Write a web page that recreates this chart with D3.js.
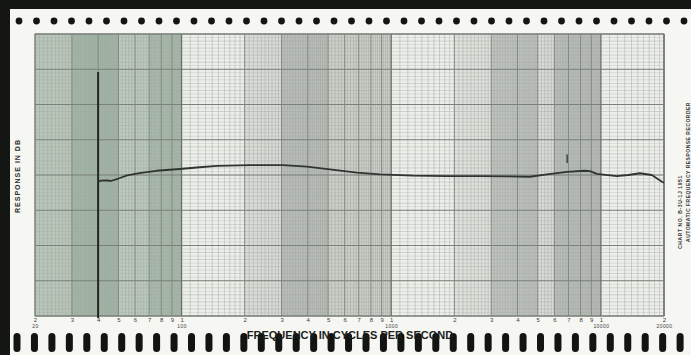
<!DOCTYPE html>
<html>
<head>
<meta charset="utf-8">
<script src="https://cdn.jsdelivr.net/npm/d3@7"></script>
<style>
  body { margin: 0; background: #fff; }
  svg { display: block; }
</style>
</head>
<body>
<div class="chart"></div>
<script>
// pen trace (Hz, dB)
var traceFreq = [40, 41, 44, 46, 50, 55, 64, 76, 98, 122, 148, 212, 305, 396, 510, 686, 884,
                 1270, 1840, 2650, 3600, 4590, 5530, 6890, 8390, 8860, 9570, 11900, 13500, 15350, 17500, 19550, 20000];
var traceDb   = [-1.0, -0.8, -0.75, -0.85, -0.5, -0.05, 0.3, 0.6, 0.85, 1.1, 1.3, 1.4, 1.4, 1.2, 0.8, 0.35, 0.1,
                 -0.1, -0.15, -0.15, -0.2, -0.25, 0.1, 0.45, 0.6, 0.55, 0.15, -0.15, 0.0, 0.25, 0.0, -0.95, -1.1];

// pen marks (vertical strokes): freq, top dB, bottom dB
var markFreq   = [40, 6900];
var markTop    = [14.6, 2.9];
var markBottom = [-20.3, 1.7];

// tinted bands printed on the paper
var bandFrom = [20, 30, 50, 70, 200, 300, 500, 2000, 3000, 5000, 6000];
var bandTo   = [30, 50, 70, 100, 300, 500, 1000, 3000, 5000, 6000, 10000];

// axis labels
var digitTicks  = [20, 30, 40, 50, 60, 70, 80, 90, 100, 200, 300, 400, 500, 600, 700, 800, 900, 1000,
                   2000, 3000, 4000, 5000, 6000, 7000, 8000, 9000, 10000, 20000];
var decadeTicks = [20, 100, 1000, 10000, 20000];
var decadeNames = ["20", "100", "1000", "10000", "20000"];

var width = 691;
var height = 355;
var plot = {left: 35, right: 664, top: 34, bottom: 316};

// band tints (style only)
var bandTone = [0.42, 0.6, 0.38, 0.55, 0.18, 0.45, 0.3, 0.12, 0.4, 0.18, 0.45];
var bandHue  = ["#6f8f78", "#6f8f78", "#6f8f78", "#6f8f78", "#7d817c", "#7d817c", "#7d817c",
                "#7d817c", "#7d817c", "#7d817c", "#7d817c"];

var x = d3.scaleLog().domain([20, 20000]).range([plot.left, plot.right]);
var y = d3.scaleLinear().domain([-20, 20]).range([plot.bottom, plot.top]);

var svg = d3.select(".chart").append("svg")
  .attr("width", width)
  .attr("height", height);

// scanner edges + paper
svg.append("rect").attr("width", width).attr("height", height).attr("fill", "#141614");
svg.append("rect").attr("x", 10).attr("y", 9).attr("width", width - 10).attr("height", height - 9)
  .attr("fill", "#f6f6f3");

// sprocket dots on top
svg.append("g").selectAll("circle")
  .data(d3.range(39))
  .enter().append("circle")
  .attr("cx", d => 19 + d * 17.5)
  .attr("cy", 21)
  .attr("r", 3.4)
  .attr("fill", "#151515");

// plot paper
svg.append("rect")
  .attr("x", plot.left).attr("y", plot.top)
  .attr("width", plot.right - plot.left).attr("height", plot.bottom - plot.top)
  .attr("fill", "#eceee9");

svg.append("g").selectAll("rect")
  .data(bandFrom)
  .enter().append("rect")
  .attr("x", d => x(d))
  .attr("y", plot.top)
  .attr("width", (d, i) => x(bandTo[i]) - x(d))
  .attr("height", plot.bottom - plot.top)
  .attr("fill", (d, i) => bandHue[i])
  .attr("opacity", (d, i) => bandTone[i]);

// log grid
var minorF = [], midF = [], majorF = [];
[10, 100, 1000, 10000].forEach(function(dec) {
  for (var m = 1; m < 10; m++) {
    var step = m < 5 ? dec / 10 : dec / 5;
    for (var k = 1; k * step < dec; k++) {
      var f = m * dec + k * step;
      if (f > 20 && f < 20000) minorF.push(f);
    }
    var g = m * dec;
    if (g >= 20 && g <= 20000) (m == 1 ? majorF : midF).push(g);
  }
});
majorF.push(20000);

var grid = svg.append("g");

grid.selectAll(".vminor").data(minorF).enter().append("line")
  .attr("x1", d => x(d)).attr("x2", d => x(d))
  .attr("y1", plot.top).attr("y2", plot.bottom)
  .attr("stroke", "#9da29d").attr("stroke-width", 0.6).attr("opacity", 0.75);

var minorDb = d3.range(-20, 20.01, 0.5);
grid.selectAll(".hminor").data(minorDb).enter().append("line")
  .attr("x1", plot.left).attr("x2", plot.right)
  .attr("y1", d => y(d)).attr("y2", d => y(d))
  .attr("stroke", "#a3a8a3").attr("stroke-width", 0.5)
  .attr("opacity", d => (d % 1 == 0 ? 0.85 : 0.55));

grid.selectAll(".vmid").data(midF).enter().append("line")
  .attr("x1", d => x(d)).attr("x2", d => x(d))
  .attr("y1", plot.top).attr("y2", plot.bottom)
  .attr("stroke", "#7f857f").attr("stroke-width", 1);

grid.selectAll(".hmajor").data(d3.range(-20, 20.01, 5)).enter().append("line")
  .attr("x1", plot.left).attr("x2", plot.right)
  .attr("y1", d => y(d)).attr("y2", d => y(d))
  .attr("stroke", "#7a807a").attr("stroke-width", 1);

grid.selectAll(".vmajor").data(majorF).enter().append("line")
  .attr("x1", d => x(d)).attr("x2", d => x(d))
  .attr("y1", plot.top).attr("y2", plot.bottom)
  .attr("stroke", "#6a706a").attr("stroke-width", 1.3);

svg.append("rect")
  .attr("x", plot.left).attr("y", plot.top)
  .attr("width", plot.right - plot.left).attr("height", plot.bottom - plot.top)
  .attr("fill", "none").attr("stroke", "#7a7f7a").attr("stroke-width", 1);

// pen marks
svg.append("g").selectAll("line")
  .data(markFreq)
  .enter().append("line")
  .attr("x1", d => x(d)).attr("x2", d => x(d))
  .attr("y1", (d, i) => y(markTop[i]))
  .attr("y2", (d, i) => y(markBottom[i]))
  .attr("stroke", "#232623")
  .attr("stroke-width", (d, i) => i == 0 ? 2 : 1.2);

// response trace
var line = d3.line()
  .x(d => x(d[0]))
  .y(d => y(d[1]));

svg.append("path")
  .datum(traceFreq.map((f, i) => [f, traceDb[i]]))
  .attr("d", line)
  .attr("fill", "none")
  .attr("stroke", "#2f3430")
  .attr("stroke-width", 1.8)
  .attr("stroke-linejoin", "round");

// frequency labels
var digitAxis = d3.axisBottom(x)
  .tickValues(digitTicks)
  .tickSize(0)
  .tickPadding(0)
  .tickFormat(d => String(d).charAt(0));

svg.append("g")
  .attr("transform", "translate(0," + (plot.bottom + 2) + ")")
  .call(digitAxis)
  .call(g => g.select(".domain").remove())
  .selectAll("text")
  .attr("font-family", "Liberation Sans, Arial, sans-serif")
  .attr("font-size", 6)
  .attr("fill", "#3a3d3a");

var decadeAxis = d3.axisBottom(x)
  .tickValues(decadeTicks)
  .tickSize(0)
  .tickPadding(0)
  .tickFormat((d, i) => decadeNames[i]);

svg.append("g")
  .attr("transform", "translate(0," + (plot.bottom + 8) + ")")
  .call(decadeAxis)
  .call(g => g.select(".domain").remove())
  .selectAll("text")
  .attr("font-family", "Liberation Sans, Arial, sans-serif")
  .attr("font-size", 5)
  .attr("letter-spacing", 0.4)
  .attr("fill", "#3a3d3a");

// bottom sprocket holes
svg.append("g").selectAll("rect")
  .data(d3.range(39))
  .enter().append("rect")
  .attr("x", d => 13.5 + d * 17.45)
  .attr("y", 333)
  .attr("width", 7)
  .attr("height", 19)
  .attr("rx", 3.5)
  .attr("fill", "#121412");

// titles
svg.append("text")
  .attr("x", 350).attr("y", 339)
  .attr("text-anchor", "middle")
  .attr("font-family", "Liberation Sans, Arial, sans-serif")
  .attr("font-weight", "bold")
  .attr("font-size", 11)
  .attr("fill", "#1c1f1c")
  .text("FREQUENCY IN CYCLES PER SECOND");

svg.append("text")
  .attr("transform", "translate(20,176) rotate(-90)")
  .attr("text-anchor", "middle")
  .attr("font-family", "Liberation Sans, Arial, sans-serif")
  .attr("font-weight", "bold")
  .attr("font-size", 7)
  .attr("letter-spacing", 1)
  .attr("fill", "#2a2d2a")
  .text("RESPONSE IN DB");

svg.append("text")
  .attr("transform", "translate(682,212) rotate(-90)")
  .attr("text-anchor", "middle")
  .attr("font-family", "Liberation Sans, Arial, sans-serif")
  .attr("font-weight", "bold")
  .attr("font-size", 5)
  .attr("letter-spacing", 0.6)
  .attr("fill", "#333633")
  .text("CHART NO. B-3U-1J  1951");

svg.append("text")
  .attr("transform", "translate(690,172) rotate(-90)")
  .attr("text-anchor", "middle")
  .attr("font-family", "Liberation Sans, Arial, sans-serif")
  .attr("font-weight", "bold")
  .attr("font-size", 5)
  .attr("letter-spacing", 0.5)
  .attr("fill", "#333633")
  .text("AUTOMATIC FREQUENCY RESPONSE RECORDER");
</script>
</body>
</html>
